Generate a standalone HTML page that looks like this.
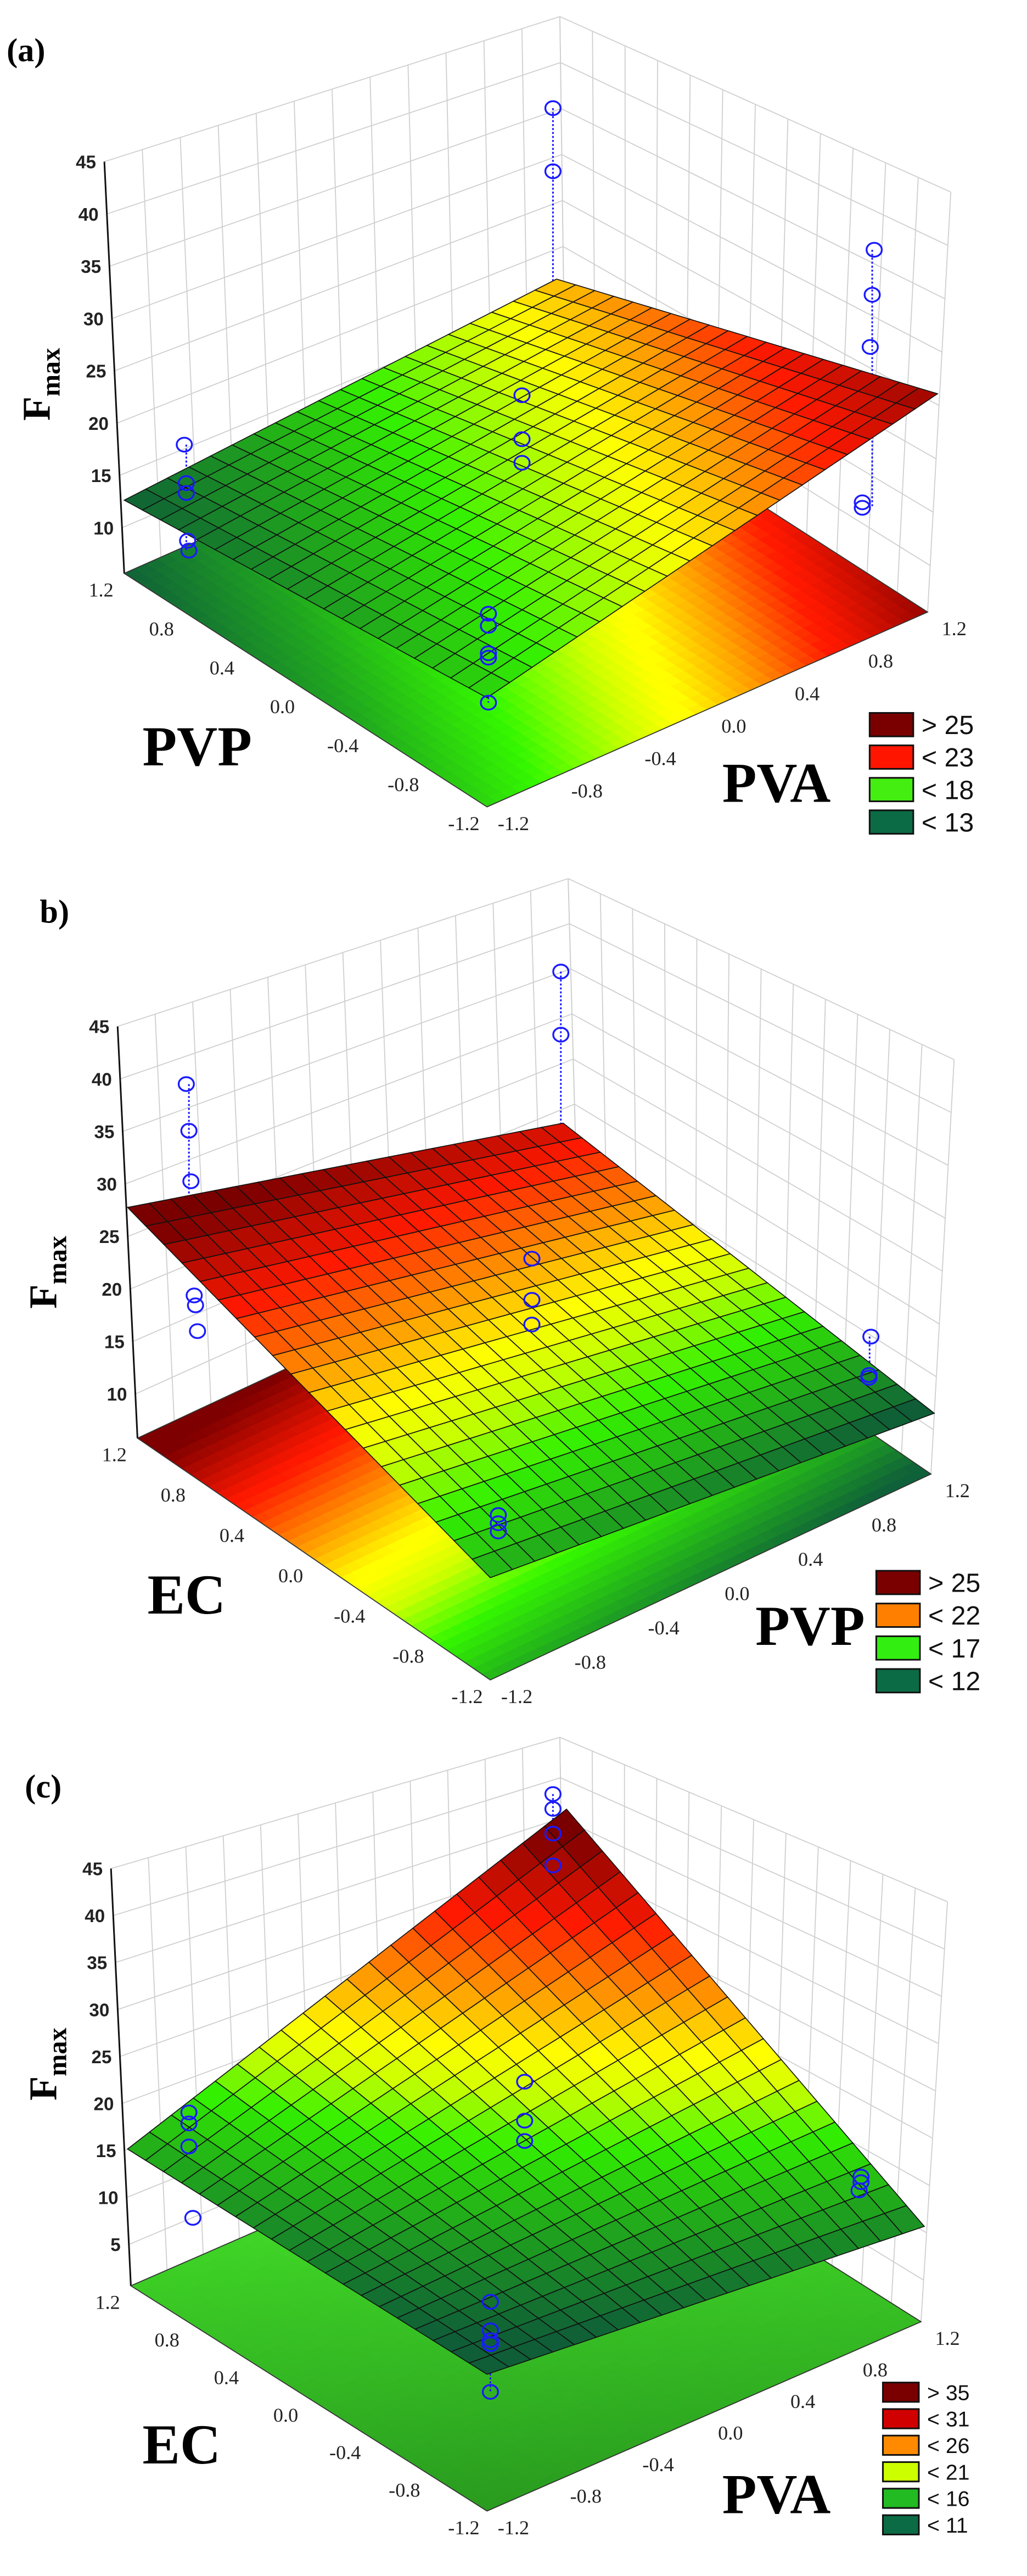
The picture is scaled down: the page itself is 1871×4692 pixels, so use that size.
<!DOCTYPE html>
<html><head><meta charset="utf-8"><style>
html,body{margin:0;padding:0;background:#fff;width:1871px;height:4692px;overflow:hidden}
svg{display:block}
.ser{font-family:"Liberation Serif",serif}
.san{font-family:"Liberation Sans",sans-serif}
</style></head><body>
<svg id="s" xmlns="http://www.w3.org/2000/svg" width="1871" height="4692" viewBox="0 0 620 1555" preserveAspectRatio="none">
<rect width="620" height="1555" fill="#fff"/>
<g id="g"></g>
<text class="ser" x="4" y="37" font-size="20" font-weight="bold">(a)</text>
<text class="ser" x="24" y="557" font-size="20" font-weight="bold">b)</text>
<text class="ser" x="15" y="1085" font-size="20" font-weight="bold">(c)</text>
<text class="ser" x="86" y="462" font-size="34" font-weight="bold">PVP</text>
<text class="ser" x="436" y="484" font-size="34" font-weight="bold">PVA</text>
<text class="ser" x="89" y="974" font-size="34" font-weight="bold">EC</text>
<text class="ser" x="456" y="993" font-size="34" font-weight="bold">PVP</text>
<text class="ser" x="86" y="1487" font-size="34" font-weight="bold">EC</text>
<text class="ser" x="436" y="1517" font-size="34" font-weight="bold">PVA</text>
<g class="ser" font-weight="bold" font-size="24">
<text transform="translate(30,254) rotate(-90)">F<tspan font-size="16" dy="6">max</tspan></text>
<text transform="translate(34,790) rotate(-90)">F<tspan font-size="16" dy="6">max</tspan></text>
<text transform="translate(34,1268) rotate(-90)">F<tspan font-size="16" dy="6">max</tspan></text>
</g>
</svg>
<script>
var NS="http://www.w3.org/2000/svg",G=document.getElementById("g");
function el(t,a,txt){var e=document.createElementNS(NS,t);for(var k in a)e.setAttribute(k,a[k]);if(txt!==undefined)e.textContent=txt;G.appendChild(e);return e;}
function lerp(a,b,t){return [a[0]+(b[0]-a[0])*t,a[1]+(b[1]-a[1])*t];}
function bil(c,s,t){var F=c.F,R=c.R,L=c.L,B=c.B;return [F[0]*(1-s)*(1-t)+R[0]*s*(1-t)+L[0]*(1-s)*t+B[0]*s*t,F[1]*(1-s)*(1-t)+R[1]*s*(1-t)+L[1]*(1-s)*t+B[1]*s*t];}
var COL=[[15,94,55],[31,160,31],[51,240,0],[200,255,0],[255,255,0],[255,150,0],[255,25,0],[122,0,0]];
function cmap(v,th){if(v<=th[0])return COL[0];for(var i=1;i<th.length;i++){if(v<=th[i]){var t=(v-th[i-1])/(th[i]-th[i-1]);var a=COL[i-1],b=COL[i];return [a[0]+(b[0]-a[0])*t,a[1]+(b[1]-a[1])*t,a[2]+(b[2]-a[2])*t];}}return COL[7];}
function rgb(c,k){k=k||1;return "rgb("+Math.round(Math.min(255,c[0]*k))+","+Math.round(Math.min(255,c[1]*k))+","+Math.round(Math.min(255,c[2]*k))+")";}
function P2(p){return p[0].toFixed(2)+","+p[1].toFixed(2);}
var K=0.834;
var panels=[
{floor:{F:[294,584],R:[560,443],L:[75,415],B:[341,274]},LT:[63,117],BT:[338,12],RT:[574,139],
 surf:{F:[294,505],R:[566,285],L:[75,362],B:[336,202]},
 f:function(a,p){return 18.5+4.5*a-2*p;},th:[12,14.5,17,19,20,21.5,23,25.5],
 z0:10,z1:45,zstep:5,y10:382,ypu:7.57,zf:5.64,
 pts:[[840,197],[840,312],[1328,455],[1325,537],[1322,632],[1310,915],[1310,925],[793,720],[793,800],[793,843],[280,810],[283,880],[283,898],[285,985],[287,1003],[742,1118],[742,1140],[742,1190],[742,1198],[742,1280]],
 lines:[[840,197,548],[1325,455,925],[793,720,843],[283,810,1003],[742,1118,1280]],oy:0,
 leg:{x:525,y:516,h:17,gap:23.5,fs:16,items:[["> 25","#7a0000"],["< 23","#ff1500"],["< 18","#44ee11"],["< 13","#0b6b45"]]}},
{floor:{F:[296,1117],R:[562,968],L:[83,942],B:[349,793]},LT:[71,644],BT:[343,537],RT:[576,668],
 surf:{F:[296,1043],R:[564,924],L:[77,775],B:[340,714]},
 f:function(p,e){return 19+7*e-1.5*p;},th:[11,13,15.5,17.5,19,21,23.5,26.5],
 z0:10,z1:45,zstep:5,y10:910,ypu:7.6,zf:5.8,
 pts:[[852,270],[852,385],[283,475],[287,560],[290,652],[295,860],[297,878],[300,925],[808,793],[808,868],[808,913],[1323,935],[1320,1005],[1320,1010],[757,1260],[757,1275],[757,1290]],
 lines:[[852,270,600],[287,475,740],[808,793,913],[1321,935,1050]],oy:497,
 leg:{x:529,y:1038,h:17,gap:23.7,fs:16,items:[["> 25","#7a0000"],["< 22","#ff8000"],["< 17","#33ee11"],["< 12","#0b6b45"]]}},
{floor:{F:[294,1613],R:[556,1476],L:[79,1450],B:[341,1313]},LT:[67,1148],BT:[338,1053],RT:[572,1172],
 surf:{F:[294,1514],R:[558,1407],L:[77,1351],B:[342,1105]},
 f:function(a,e){var s=(a+1)/2,t=(e+1)/2;return 9*(1-s)*(1-t)+13*s*(1-t)+15*(1-s)*t+42*s*t;},th:[10,14.5,19.5,22.5,25,29,34,40],
 z0:5,z1:45,zstep:5,y10:1420,ypu:6.8,zf:0.6,zbase:5,
 pts:[[840,168],[840,195],[840,240],[840,298],[287,748],[287,768],[287,810],[293,940],[797,692],[797,763],[797,800],[1308,865],[1308,875],[1305,890],[745,1093],[745,1145],[745,1163],[745,1170],[745,1257]],
 lines:[[840,168,298],[797,692,800],[1307,865,915],[745,1093,1257]],oy:1027.3,floorGreen:true,
 leg:{x:533,y:1520,h:14,gap:19.2,fs:13,items:[["> 35","#7a0000"],["< 31","#d00000"],["< 26","#ff8a00"],["< 21","#ccff00"],["< 16","#22bb22"],["< 11","#0b6b45"]]}}
];
var ticks=["-1.2","-0.8","-0.4","0.0","0.4","0.8","1.2"];
panels.forEach(function(pn){
 var oy=pn.oy;
 function Y(y){return oy+(y-oy)*K;}
 function YP(p){return [p[0],Y(p[1])];}
 var fl={F:YP(pn.floor.F),R:YP(pn.floor.R),L:YP(pn.floor.L),B:YP(pn.floor.B)};
 var sf={F:YP(pn.surf.F),R:YP(pn.surf.R),L:YP(pn.surf.L),B:YP(pn.surf.B)};
 var LT=YP(pn.LT),BT=YP(pn.BT),RT=YP(pn.RT);
 function frac(z){return (z-pn.zf)/(45-pn.zf);}
 var gl={stroke:"#cfcfcf","stroke-width":0.6,fill:"none"};
 for(var i=0;i<=12;i++){var t=i/12;el("line",Object.assign({x1:lerp(fl.L,fl.B,t)[0],y1:lerp(fl.L,fl.B,t)[1],x2:lerp(LT,BT,t)[0],y2:lerp(LT,BT,t)[1]},gl));
  el("line",Object.assign({x1:lerp(fl.B,fl.R,t)[0],y1:lerp(fl.B,fl.R,t)[1],x2:lerp(BT,RT,t)[0],y2:lerp(BT,RT,t)[1]},gl));}
 for(var z=pn.z0;z<=pn.z1;z+=pn.zstep){var k=frac(z);var a=lerp(fl.L,LT,k),b=lerp(fl.B,BT,k),c=lerp(fl.R,RT,k);
  el("polyline",Object.assign({points:P2(a)+" "+P2(b)+" "+P2(c)},gl));
  el("text",{x:a[0]-5,y:a[1]+4,"font-size":11,"font-weight":"bold","text-anchor":"end","class":"san",fill:"#222"},String(z));}
 el("line",{x1:fl.L[0],y1:fl.L[1],x2:LT[0],y2:LT[1],stroke:"#111","stroke-width":1});
 var N=40;
 for(var i=0;i<N;i++)for(var j=0;j<N;j++){var s=(i+.5)/N,t=(j+.5)/N,col;
  if(pn.floorGreen){var q=t*0.6+s*0.4;col=[40+30*q,150+80*q,30+10*q];}
  else col=cmap(pn.f(2*s-1,2*t-1),pn.th);
  var p1=bil(fl,i/N,j/N),p2=bil(fl,(i+1)/N,j/N),p3=bil(fl,(i+1)/N,(j+1)/N),p4=bil(fl,i/N,(j+1)/N);
  el("polygon",{points:P2(p1)+" "+P2(p2)+" "+P2(p3)+" "+P2(p4),fill:rgb(col,1.03),stroke:rgb(col,1.03),"stroke-width":0.4});}
 el("polygon",{points:P2(fl.F)+" "+P2(fl.R)+" "+P2(fl.B)+" "+P2(fl.L),fill:"none",stroke:"#333","stroke-width":0.6});
 for(var i=0;i<7;i++){var t=i/6;var a=lerp(fl.F,fl.R,t),b=lerp(fl.F,fl.L,t);
  el("text",{x:a[0]+16,y:a[1]+14,"font-size":12,"text-anchor":"middle","class":"ser",fill:"#222"},ticks[i]);
  el("text",{x:b[0]-14,y:b[1]+14,"font-size":12,"text-anchor":"middle","class":"ser",fill:"#222"},ticks[i]);}
 var sc=0.3974, sy=1/3.0177;
 pn.lines.forEach(function(l){el("line",{x1:l[0]*sc,y1:oy+l[1]*sy,x2:l[0]*sc,y2:oy+l[2]*sy,stroke:"#1a1aff","stroke-width":1,"stroke-dasharray":"1.2,1.2"});});
 var M=20;
 for(var i=0;i<M;i++)for(var j=0;j<M;j++){var s=(i+.5)/M,t=(j+.5)/M;var col=cmap(pn.f(2*s-1,2*t-1),pn.th);
  var p1=bil(sf,i/M,j/M),p2=bil(sf,(i+1)/M,j/M),p3=bil(sf,(i+1)/M,(j+1)/M),p4=bil(sf,i/M,(j+1)/M);
  el("polygon",{points:P2(p1)+" "+P2(p2)+" "+P2(p3)+" "+P2(p4),fill:rgb(col),stroke:"#111","stroke-width":0.55});}
 pn.pts.forEach(function(p){el("ellipse",{cx:p[0]*sc,cy:oy+p[1]*sy,rx:4.6,ry:4.2,fill:"none",stroke:"#1a1aff","stroke-width":1.1});});
 var lg=pn.leg,h=lg.h*K,gap=lg.gap*K;
 lg.items.forEach(function(it,k){var y=Y(lg.y)+k*gap;
  el("rect",{x:lg.x,y:y,width:lg.h*1.55,height:h,fill:it[1],stroke:"#111","stroke-width":1});
  el("text",{x:lg.x+lg.h*1.55+5,y:y+h*0.9,"font-size":lg.fs,"class":"san",fill:"#111"},it[0]);});
});
</script>
</body></html>
